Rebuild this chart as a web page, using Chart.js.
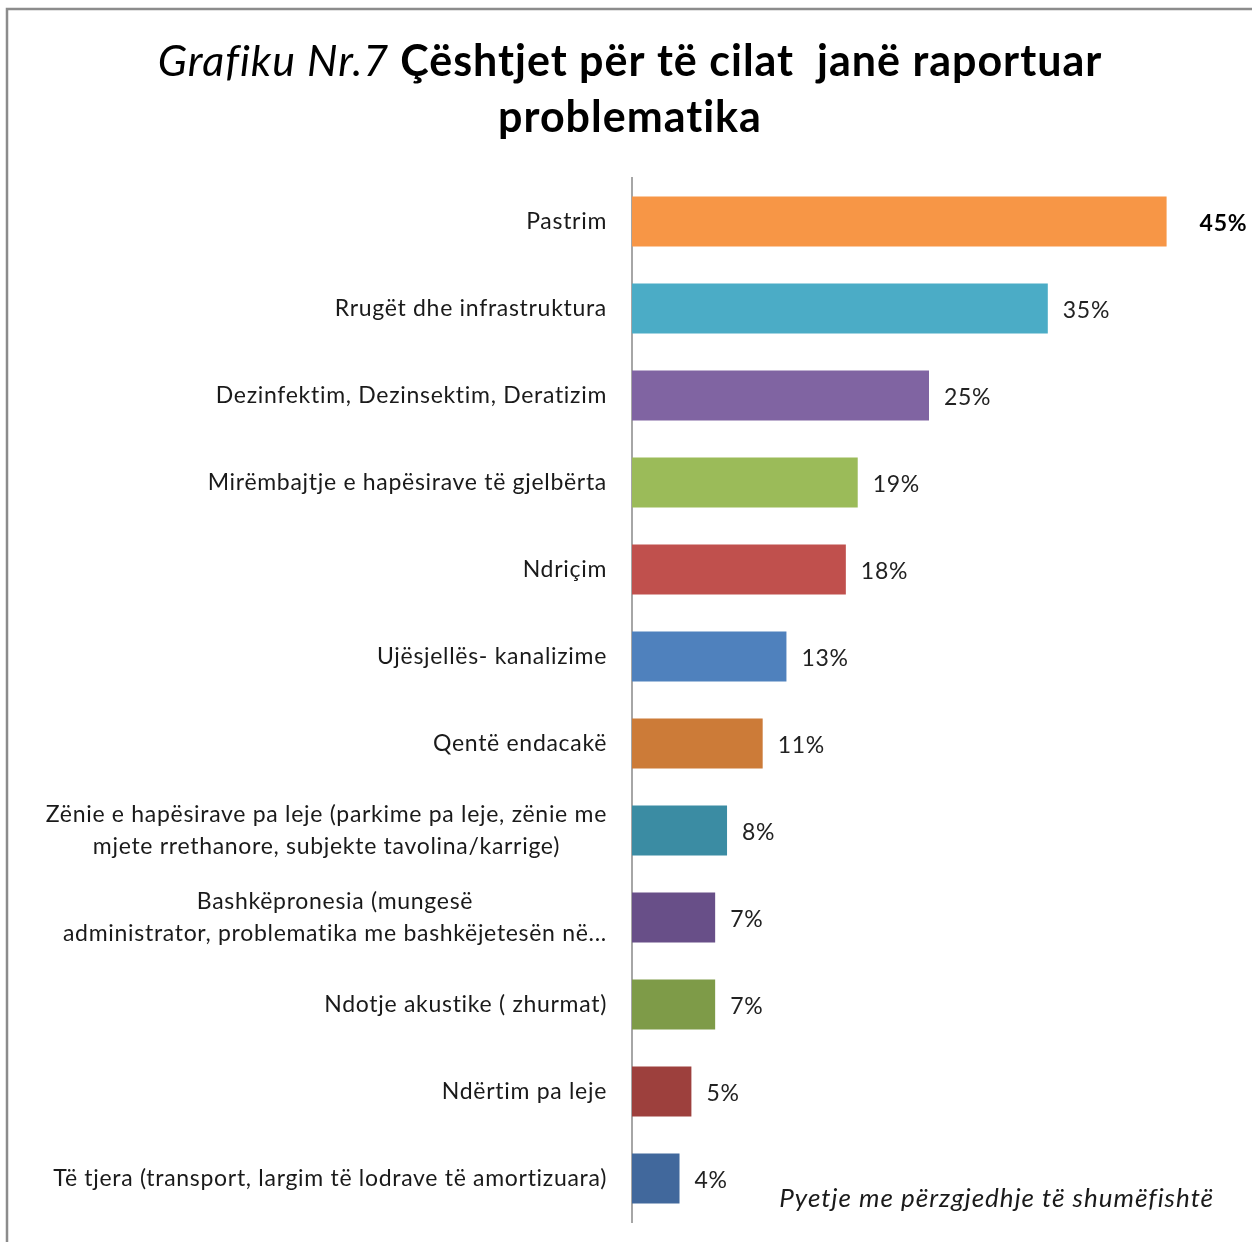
<!DOCTYPE html>
<html>
<head>
<meta charset="utf-8">
<script src="https://cdn.jsdelivr.net/npm/chart.js@4.4.1/dist/chart.umd.min.js"></script>
<style>
  html, body { margin: 0; padding: 0; background: #fff; }
  #wrap { position: relative; width: 1252px; height: 1242px; }
</style>
</head>
<body>
<div id="wrap"><canvas id="chart" width="1252" height="1242"></canvas></div>
<script>
// categories (multi-line ones as arrays)
const categories = [
  "Pastrim",
  "Rrugët dhe infrastruktura",
  "Dezinfektim, Dezinsektim, Deratizim",
  "Mirëmbajtje e hapësirave të gjelbërta",
  "Ndriçim",
  "Ujësjellës- kanalizime",
  "Qentë endacakë",
  ["Zënie e hapësirave pa leje (parkime pa leje, zënie me", "mjete rrethanore, subjekte tavolina/karrige)"],
  ["Bashkëpronesia (mungesë", "administrator, problematika me bashkëjetesën në..."],
  "Ndotje akustike ( zhurmat)",
  "Ndërtim pa leje",
  "Të tjera (transport, largim të lodrave të amortizuara)"
];
const values = [45, 35, 25, 19, 18, 13, 11, 8, 7, 7, 5, 4];
const barColors = [
  "#F79646", "#4BACC6", "#8064A2", "#9BBB59", "#C0504D", "#4F81BD",
  "#CC7B38", "#3B8CA3", "#684F88", "#7E9B48", "#9D403D", "#41689C"
];
const titleItalic = "Grafiku Nr.7 ";
const titleBold1 = "Çështjet për të cilat  janë raportuar";
const titleBold2 = "problematika";
const footnote = "Pyetje me përzgjedhje të shumëfishtë";

const FONT = "Lato, 'Open Sans', sans-serif";

// frame, title, footnote
const decorPlugin = {
  id: "decor",
  beforeDraw(chart) {
    const c = chart.ctx;
    c.save();
    c.fillStyle = "#fff";
    c.fillRect(0, 0, chart.width, chart.height);
    c.strokeStyle = "#8c8c8c";
    c.lineWidth = 2.5;
    c.beginPath();
    c.moveTo(7, chart.height);
    c.lineTo(7, 9);
    c.lineTo(chart.width, 9);
    c.stroke();
    c.restore();
  },
  afterDraw(chart) {
    const c = chart.ctx;
    c.save();
    c.fillStyle = "#000";
    c.textBaseline = "middle";
    c.letterSpacing = "1px";
    // title line 1, mixed style
    c.font = "italic 43px " + FONT;
    const w1 = c.measureText(titleItalic).width;
    c.font = "bold 43px " + FONT;
    const w2 = c.measureText(titleBold1).width;
    let x = 630 - (w1 + w2) / 2;
    c.textAlign = "left";
    c.font = "italic 43px " + FONT;
    c.fillText(titleItalic, x, 62);
    c.font = "bold 43px " + FONT;
    c.fillText(titleBold1, x + w1, 62);
    c.textAlign = "center";
    c.fillText(titleBold2, 630, 118);
    // footnote
    c.font = "italic 26px " + FONT;
    c.textAlign = "right";
    c.fillStyle = "#1a1a1a";
    c.fillText(footnote, 1214, 1199);
    c.restore();
  }
};

// category labels: block right-aligned to the axis, lines centred inside the block
const catLabelPlugin = {
  id: "catLabels",
  afterDraw(chart) {
    const c = chart.ctx;
    const ys = chart.scales.y;
    c.save();
    c.font = "23px " + FONT;
    c.letterSpacing = "0.7px";
    c.fillStyle = "#1a1a1a";
    c.textBaseline = "middle";
    c.textAlign = "center";
    const right = chart.chartArea.left - 25;
    const lh = 32;
    categories.forEach((lab, i) => {
      const lines = Array.isArray(lab) ? lab : [lab];
      const bw = Math.max(...lines.map(l => c.measureText(l).width));
      const cx = right - bw / 2;
      const yc = ys.getPixelForValue(i);
      lines.forEach((l, k) => {
        c.fillText(l, cx, yc + (k - (lines.length - 1) / 2) * lh);
      });
    });
    c.restore();
  }
};

// value labels at bar ends
const valueLabelPlugin = {
  id: "valueLabels",
  afterDatasetsDraw(chart) {
    const c = chart.ctx;
    const meta = chart.getDatasetMeta(0);
    c.save();
    c.textBaseline = "middle";
    c.textAlign = "left";
    c.letterSpacing = "0.7px";
    meta.data.forEach((bar, i) => {
      const first = i === 0;
      c.font = (first ? "bold " : "") + "23px " + FONT;
      c.fillStyle = first ? "#000" : "#222";
      c.fillText(values[i] + "%", bar.x + (first ? 33 : 15), bar.y + 2);
    });
    c.restore();
  }
};

const ctx = document.getElementById("chart").getContext("2d");
new Chart(ctx, {
  type: "bar",
  data: {
    labels: categories,
    datasets: [{
      data: values,
      backgroundColor: barColors,
      borderWidth: 0,
      barPercentage: 0.575,
      categoryPercentage: 1
    }]
  },
  options: {
    indexAxis: "y",
    responsive: false,
    animation: false,
    devicePixelRatio: 1,
    layout: { padding: { top: 178, bottom: 20, left: 0, right: 26 } },
    plugins: { legend: { display: false }, tooltip: { enabled: false } },
    scales: {
      x: { min: 0, max: 50, display: false },
      y: {
        grid: { display: false },
        ticks: { display: false },
        border: { display: true, color: "#a6a6a6", width: 2 },
        afterFit(scale) { scale.width = 632; }
      }
    }
  },
  plugins: [decorPlugin, catLabelPlugin, valueLabelPlugin]
});
</script>
</body>
</html>
